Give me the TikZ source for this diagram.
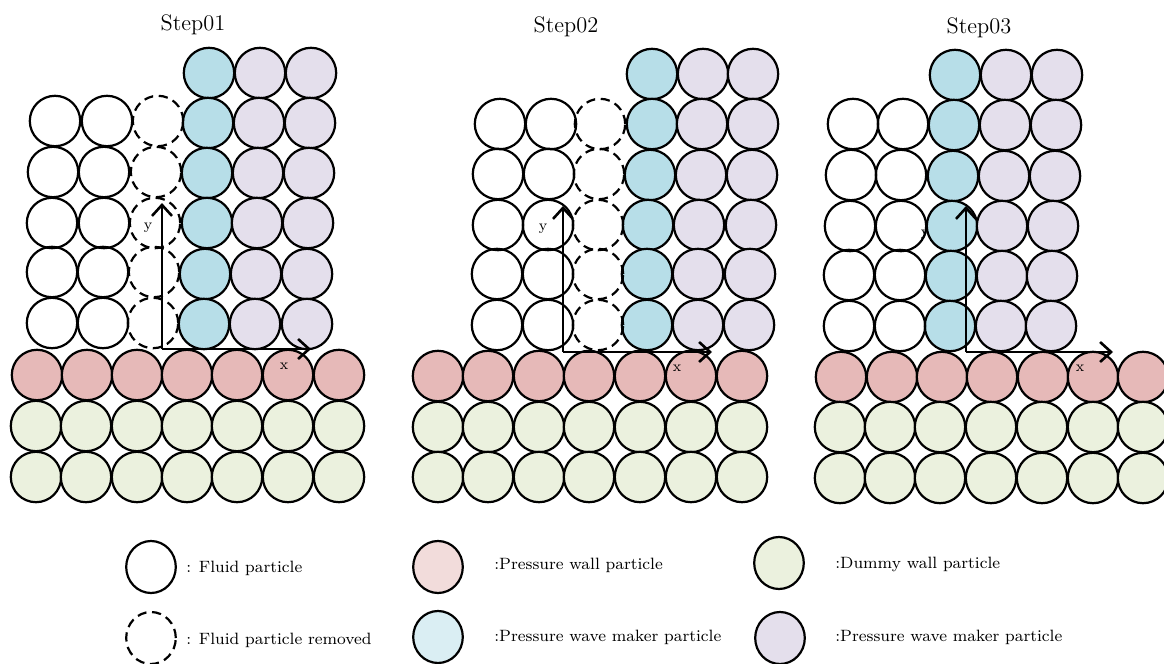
\documentclass[tikz,border=0pt]{standalone}
\usetikzlibrary{arrows.meta,shapes.geometric}
\definecolor{wallred}{HTML}{E6B9B8}
\definecolor{wavecyan}{HTML}{B7DEE8}
\definecolor{wavelav}{HTML}{E4DFEC}
\definecolor{dummygreen}{HTML}{EBF1DE}
\definecolor{legred}{HTML}{F2DCDB}
\definecolor{legcyan}{HTML}{DAEEF3}
\begin{document}
\begin{tikzpicture}[x=0.5pt,y=-0.5pt,
  particle/.style={circle,draw=black,line width=1.1pt,minimum size=25.2pt,inner sep=0pt},
  fluidP/.style={particle},
  removedP/.style={particle,dash pattern=on 4.6pt off 2.8pt},
  wallP/.style={particle,fill=wallred},
  dummyP/.style={particle,fill=dummygreen},
  cyanP/.style={particle,fill=wavecyan},
  lavP/.style={particle,fill=wavelav},
  legendP/.style={ellipse,draw=black,line width=1.1pt,minimum width=24.8pt,minimum height=26pt,inner sep=0pt},
  axisarrow/.style={line width=1.3pt,-{Straight Barb[length=5.5pt,width=10pt,line width=1.3pt]}},
  steptitle/.style={font=\fontsize{11.2}{13}\selectfont},
  axislabel/.style={font=\fontsize{7.5}{8}\selectfont,inner sep=0pt},
  legtext/.style={font=\fontsize{8.2}{10}\selectfont,anchor=west,inner sep=0pt}]
\useasboundingbox (0,0) rectangle (1164,664);

% titles
\node[steptitle] (t1) at (193,25) {Step01};
\node[steptitle] (t2) at (566,27) {Step02};
\node[steptitle] (t3) at (979,28) {Step03};

% y-axis labels (behind particles)
\node[axislabel] (ly1) at (148,228) {y};
\node[axislabel] (ly2) at (543,229) {y};
\node[axislabel] (ly3) at (925,235) {y};

% ---------------- Step01 ----------------
\foreach \x/\y [count=\i] in {209/73,208/123,207/173,207/223,205/274,204/324}
  \node[cyanP] (s1b\i) at (\x,\y) {};
\foreach \x/\y [count=\i] in {260/73,259/123,258/173,257/223,256/274,255/324}
  \node[lavP] (s1l\i) at (\x,\y) {};
\foreach \x/\y [count=\i] in {311/73,310/123,309/173,308/223,307/274,307/324}
  \node[lavP] (s1m\i) at (\x,\y) {};
\foreach \x/\y [count=\i] in {55/121,53/172,52/223,52/272,52/323}
  \node[fluidP] (s1f\i) at (\x,\y) {};
\foreach \x/\y [count=\i] in {107/121,104/172,104/223,103/272,103/323}
  \node[fluidP] (s1g\i) at (\x,\y) {};
\foreach \x/\y [count=\i] in {158/121,156/172,155/223,154/272,153/323}
  \node[removedP] (s1d\i) at (\x,\y) {};
\foreach \x [count=\i] in {37,87,137,187,237,288,339}
  \node[wallP] (s1r\i) at (\x,375) {};
\foreach \x [count=\i] in {36,86,137,187,237,288,339}
  {\node[dummyP] (s1u\i) at (\x,426) {};
   \node[dummyP] (s1v\i) at (\x,477) {};}

% ---------------- Step02 ----------------
\foreach \x/\y [count=\i] in {652/74,652/124,650/175,648/225,647/274,647/325}
  \node[cyanP] (s2b\i) at (\x,\y) {};
\foreach \x/\y [count=\i] in {703/74,702/124,701/175,699/225,698/274,698/325}
  \node[lavP] (s2l\i) at (\x,\y) {};
\foreach \x/\y [count=\i] in {753/74,753/124,752/175,751/225,750/274,749/325}
  \node[lavP] (s2m\i) at (\x,\y) {};
\foreach \x/\y [count=\i] in {500/124,498/174,498/225,497/274,497/325}
  \node[fluidP] (s2f\i) at (\x,\y) {};
\foreach \x/\y [count=\i] in {551/124,549/174,548/225,548/274,548/325}
  \node[fluidP] (s2g\i) at (\x,\y) {};
\foreach \x/\y [count=\i] in {600/124,599/174,598/225,598/274,598/325}
  \node[removedP] (s2d\i) at (\x,\y) {};
\foreach \x [count=\i] in {438,488,539,589,640,691,742}
  {\node[wallP] (s2r\i) at (\x,376) {};
   \node[dummyP] (s2u\i) at (\x,427) {};
   \node[dummyP] (s2v\i) at (\x,477) {};}

% ---------------- Step03 ----------------
\foreach \x/\y [count=\i] in {955/75,954/125,953/176,952/226,951/276,950/326}
  \node[cyanP] (s3b\i) at (\x,\y) {};
\foreach \x/\y [count=\i] in {1006/75,1005/125,1004/176,1002/226,1002/276,1001/326}
  \node[lavP] (s3l\i) at (\x,\y) {};
\foreach \x/\y [count=\i] in {1057/75,1056/125,1055/176,1053/226,1052/276,1051/326}
  \node[lavP] (s3m\i) at (\x,\y) {};
\foreach \x/\y [count=\i] in {853/124,851/175,850/226,849/275,849/326}
  \node[fluidP] (s3f\i) at (\x,\y) {};
\foreach \x/\y [count=\i] in {903/124,901/175,901/226,900/275,900/326}
  \node[fluidP] (s3g\i) at (\x,\y) {};
\foreach \x [count=\i] in {841,892,942,992,1043,1093,1143}
  \node[wallP] (s3r\i) at (\x,377) {};
\foreach \x [count=\i] in {840,890,940,991,1042,1093,1143}
  {\node[dummyP] (s3u\i) at (\x,427) {};
   \node[dummyP] (s3v\i) at (\x,478) {};}

% ---------------- axes ----------------
\coordinate (o1) at (162,349);
\coordinate (ya1) at (162,203);
\coordinate (xa1) at (311,349);
\coordinate (o2) at (563,352);
\coordinate (ya2) at (563,206);
\coordinate (xa2) at (712,352);
\coordinate (o3) at (966,352);
\coordinate (ya3) at (966,206);
\coordinate (xa3) at (1113,352);
\foreach \k in {1,2,3}{
  \draw[axisarrow] (o\k) -- (ya\k);
  \draw[axisarrow] (o\k) -- (xa\k);
}
\node[axislabel] (lx1) at (284,366) {x};
\node[axislabel] (lx2) at (677,368) {x};
\node[axislabel] (lx3) at (1080,368) {x};

% ---------------- legend ----------------
\node[legendP] (lgf) at (151,567) {};
\node[legendP,dash pattern=on 4.6pt off 2.8pt] (lgd) at (151,638) {};
\node[legendP,fill=legred] (lgr) at (438,567) {};
\node[legendP,fill=legcyan] (lgc) at (438,637) {};
\node[legendP,fill=dummygreen] (lgg) at (779,563) {};
\node[legendP,fill=wavelav] (lgl) at (780,638) {};
\node[legtext] (txf) at (186,568) {: Fluid particle};
\node[legtext] (txd) at (186,640) {: Fluid particle removed};
\node[legtext] (txr) at (494,565) {:Pressure wall particle};
\node[legtext] (txc) at (494,637) {:Pressure wave maker particle};
\node[legtext] (txg) at (835,564) {:Dummy wall particle};
\node[legtext] (txl) at (835,637) {:Pressure wave maker particle};
\end{tikzpicture}
\end{document}
